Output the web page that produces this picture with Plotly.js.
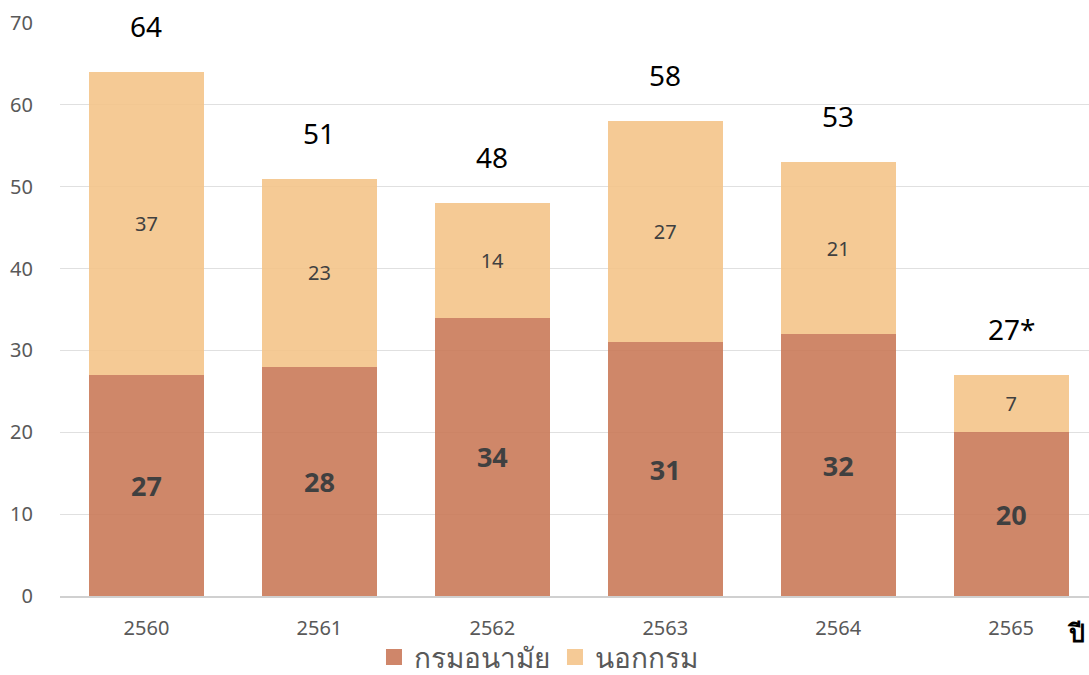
<!DOCTYPE html>
<html><head><meta charset="utf-8">
<script src="https://cdn.plot.ly/plotly-3.0.1.min.js"></script>
<style>html,body{margin:0;padding:0;background:#fff;}#chart{width:1089px;height:675px;}</style>
</head><body><div id="chart"></div>
<script>
const years = ['2560','2561','2562','2563','2564','2565'];
const inDept = [27, 28, 34, 31, 32, 20];
const outDept = [37, 23, 14, 27, 21, 7];
const totals = [64, 51, 48, 58, 53, 27];
const totalLabels = ['64','51','48','58','53','27*'];
const seriesNames = ['กรมอนามัย', 'นอกกรม'];
const yTicks = [0,10,20,30,40,50,60,70];

const font = '"Noto Sans", "Open Sans", sans-serif';
const c1 = 'rgb(202,122,89)', c2 = 'rgb(244,196,138)';
const traces = [
  {type:'bar', name: seriesNames[0], x: years, y: inDept, showlegend:false,
   marker:{color:c1, opacity:0.9},
   text: inDept.map(String), texttemplate:'<b>%{text}</b>', textposition:'inside', insidetextanchor:'middle',
   textfont:{size:27, color:'#404040', family:font}, hoverinfo:'none'},
  {type:'bar', name: seriesNames[1], x: years, y: outDept, showlegend:false,
   marker:{color:c2, opacity:0.9},
   text: outDept.map(String), textposition:'inside', insidetextanchor:'middle',
   textfont:{size:20, color:'#404040', family:font}, hoverinfo:'none'},
  {type:'scatter', mode:'markers', name: seriesNames[0], x:[null], y:[null],
   marker:{symbol:'square', size:20, color:'rgb(207,134,106)'}, hoverinfo:'none'},
  {type:'scatter', mode:'markers', name: seriesNames[1], x:[null], y:[null],
   marker:{symbol:'square', size:20, color:'rgb(245,202,150)'}, hoverinfo:'none'}
];
const annotations = years.map((yr,i)=>({
  x: i, y: totals[i], xref:'x', yref:'y', text: totalLabels[i], showarrow:false,
  yanchor:'bottom', yshift:25, font:{size:28, color:'#000', family:font}
}));
annotations.push({xref:'paper', yref:'paper', x:0.987, y:-0.063, text:'<b>ปี</b>', showarrow:false,
  xanchor:'center', yanchor:'middle', font:{size:25, color:'#000', family:font}});
const layout = {
  width:1089, height:675, barmode:'stack', bargap:0.335,
  margin:{l:60, r:0, t:23, b:79, autoexpand:false},
  paper_bgcolor:'#fff', plot_bgcolor:'#fff',
  font:{family:font, color:'#595959'},
  xaxis:{type:'category', range:[-0.5,5.45], showgrid:false, showline:true, linecolor:'#d0d0d0', linewidth:1.5,
    ticks:'outside', tickcolor:'rgba(0,0,0,0)', ticklen:13, tickfont:{size:20, color:'#595959'}},
  yaxis:{range:[0,70], tickvals:yTicks, showgrid:true, gridcolor:'#e0e0e0', gridwidth:1.2, zeroline:false,
    showline:false, tickfont:{size:20, color:'#595959'}, ticks:'outside', ticklen:22, tickcolor:'rgba(0,0,0,0)'},
  showlegend:true,
  legend:{orientation:'h', x:0.465, xanchor:'center', y:-0.107, yanchor:'middle', itemwidth:30,
    bgcolor:'rgba(0,0,0,0)', font:{size:28, color:'#595959', family:font}, traceorder:'normal'},
  annotations: annotations
};
Plotly.newPlot('chart', traces, layout, {displayModeBar:false, staticPlot:true});
</script></body></html>
